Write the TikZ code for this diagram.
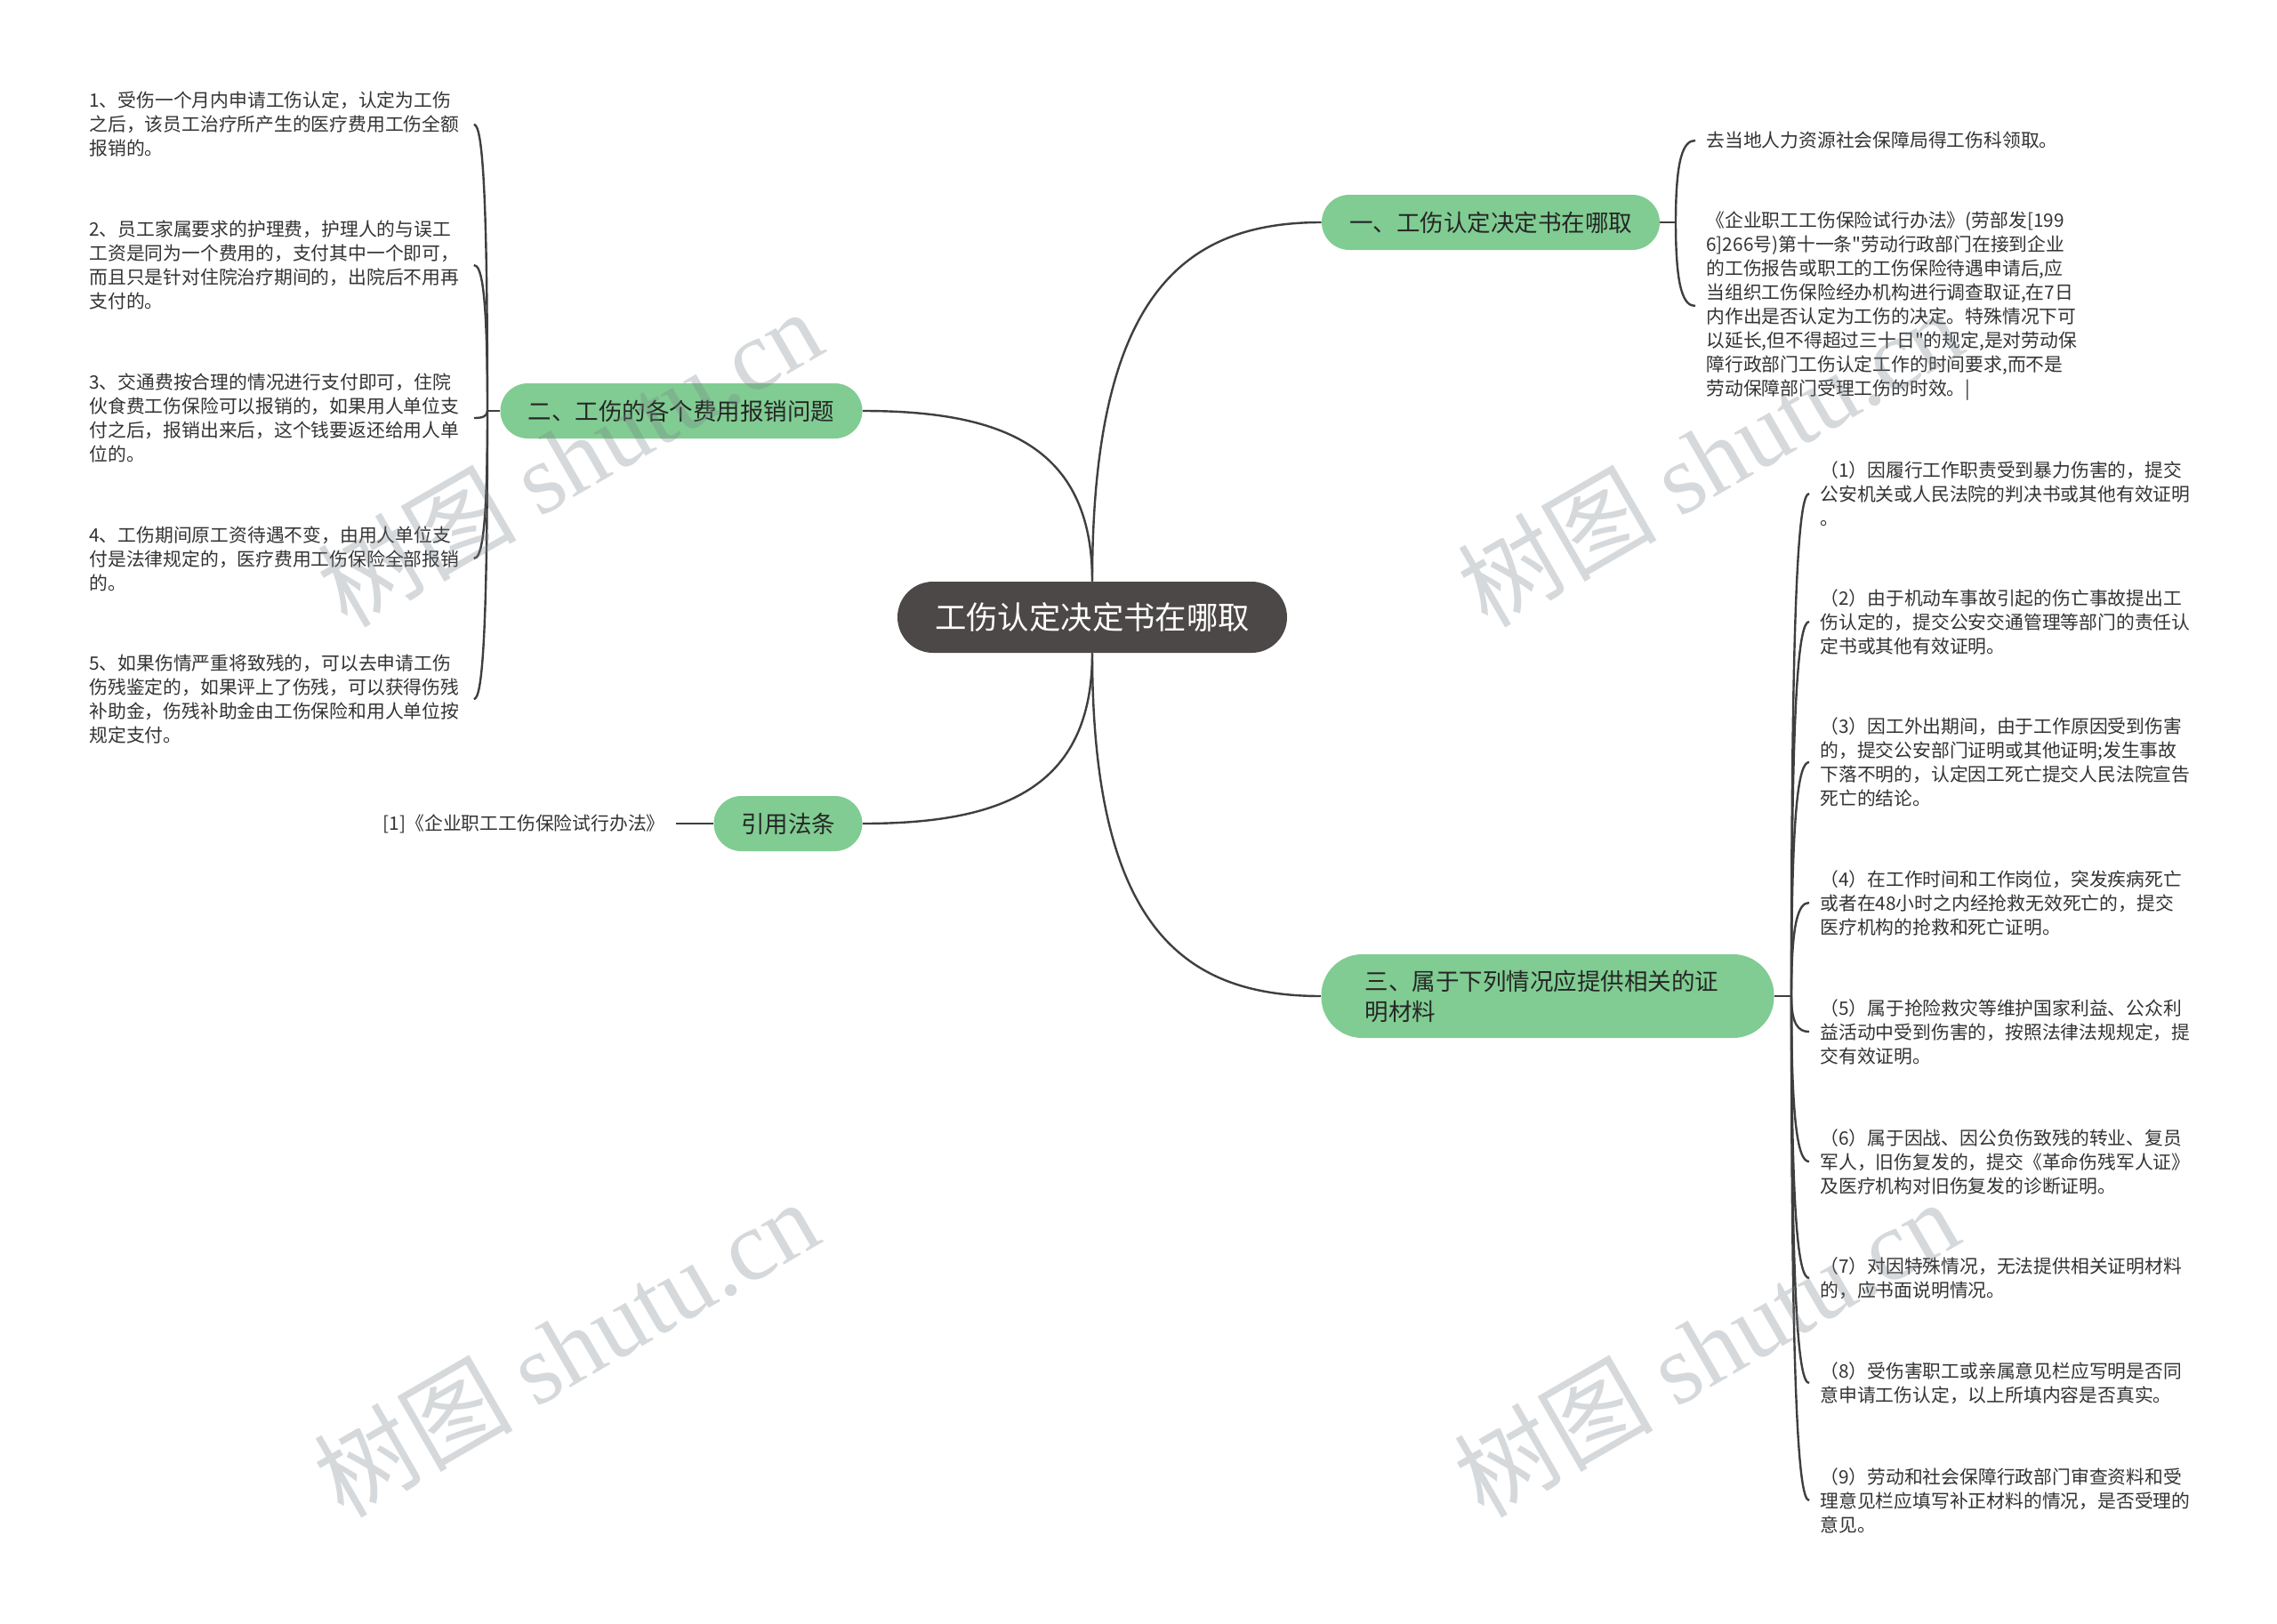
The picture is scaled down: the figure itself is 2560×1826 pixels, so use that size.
\documentclass[tikz,border=0pt]{standalone}
\usepackage{fontspec}
\setmainfont{Noto Sans CJK SC}
\newfontfamily\plainquote{Noto Sans CJK SC}[Ligatures=ResetAll]
\newfontfamily\wmlatin{Liberation Serif}
\usetikzlibrary{calc}

\definecolor{rootgray}{HTML}{4D4848}
\definecolor{twiggreen}{HTML}{80CC92}
\definecolor{linkgray}{HTML}{3F3F3F}
\definecolor{leaftext}{HTML}{333333}
\definecolor{wmgray}{RGB}{120,130,136}

\newcommand{\dq}{{\plainquote\symbol{34}}}

\tikzset{
  root/.style={fill=rootgray, text=white, rounded corners=20pt, minimum width=219pt, minimum height=40pt, inner sep=0pt, font=\fontsize{17.7pt}{21pt}\selectfont},
  twig/.style={fill=twiggreen, text=black!85, rounded corners=15.5pt, minimum height=31pt, inner sep=0pt, font=\fontsize{13.25pt}{17pt}\selectfont},
  note/.style={text=leaftext, inner xsep=6pt, inner ysep=2pt, font=\fontsize{10.4pt}{13.5pt}\selectfont},
  leaf/.style={note, align=left, text width=210pt},
  link/.style={draw=linkgray, line width=1.2pt},
  bough/.style={to path={.. controls ($(\tikztostart |- \tikztotarget)!0.2!(\tikztostart)$) and ($(\tikztostart |- \tikztotarget)!0.4!(\tikztotarget)$) .. (\tikztotarget)}},
  wmark/.style={rotate=30, text=wmgray, text opacity=0.3, font=\fontsize{56pt}{60pt}\selectfont}
}

\begin{document}
\begin{tikzpicture}[x=0.5pt, y=-0.5pt]
    % Canvas
    \fill[white] (0,0) rectangle (2560,1826);
    \useasboundingbox (0,0) rectangle (2560,1826);

    % Root and main topics
    \node[root] (root) at (1228,694) {工伤认定决定书在哪取};
    \node[twig, minimum width=190pt] (where) at (1676,250) {一、工伤认定决定书在哪取};
    \node[twig, minimum width=203.5pt] (costs) at (766,462) {二、工伤的各个费用报销问题};
    \node[twig, minimum width=83.5pt] (cite) at (886,926) {引用法条};
    \node[twig, minimum width=254.5pt, minimum height=47pt, rounded corners=23pt, align=left, text width=205.5pt] (proof) at (1740,1120) {三、属于下列情况应提供相关的证\\明材料};

    % Links from the root
    \draw[link] (root.north) to[bough] (where.west);
    \draw[link] (root.north) to[bough] (costs.east);
    \draw[link] (root.south) to[bough] (cite.east);
    \draw[link] (root.south) to[bough] (proof.west);

    % Topic one
    \node[leaf, anchor=west] (w1) at (1906,158) {去当地人力资源社会保障局得工伤科领取。};
    \node[leaf, anchor=west] (w2) at (1906,344) {《企业职工工伤保险试行办法》(劳部发[199\\6]266号)第十一条\dq 劳动行政部门在接到企业\\的工伤报告或职工的工伤保险待遇申请后,应\\当组织工伤保险经办机构进行调查取证,在7日\\内作出是否认定为工伤的决定。特殊情况下可\\以延长,但不得超过三十日\dq 的规定,是对劳动保\\障行政部门工伤认定工作的时间要求,而不是\\劳动保障部门受理工伤的时效。|};
    \coordinate (wherefork) at (1884,250);
    \draw[link] (where.east) -- (wherefork);
    \foreach \i in {1,2} \draw[link] (wherefork) to[bough] (w\i.west);

    % Topic two
    \node[leaf, anchor=west] (c1) at (88,140) {1、受伤一个月内申请工伤认定，认定为工伤\\之后，该员工治疗所产生的医疗费用工伤全额\\报销的。};
    \node[leaf, anchor=west] (c2) at (88,298) {2、员工家属要求的护理费，护理人的与误工\\工资是同为一个费用的，支付其中一个即可，\\而且只是针对住院治疗期间的，出院后不用再\\支付的。};
    \node[leaf, anchor=west] (c3) at (88,470) {3、交通费按合理的情况进行支付即可，住院\\伙食费工伤保险可以报销的，如果用人单位支\\付之后，报销出来后，这个钱要返还给用人单\\位的。};
    \node[leaf, anchor=west] (c4) at (88,628) {4、工伤期间原工资待遇不变，由用人单位支\\付是法律规定的，医疗费用工伤保险全部报销\\的。};
    \node[leaf, anchor=west] (c5) at (88,786) {5、如果伤情严重将致残的，可以去申请工伤\\伤残鉴定的，如果评上了伤残，可以获得伤残\\补助金，伤残补助金由工伤保险和用人单位按\\规定支付。};
    \coordinate (costsfork) at (548,462);
    \draw[link] (costs.west) -- (costsfork);
    \foreach \i in {1,...,5} \draw[link] (costsfork) to[bough] (c\i.east);

    % Cited law
    \node[note, anchor=east] (law) at (760,926) {[1]《企业职工工伤保险试行办法》};
    \draw[link] (cite.west) -- (law.east);

    % Topic three
    \node[leaf, anchor=west] (p1) at (2034,555) {（1）因履行工作职责受到暴力伤害的，提交\\公安机关或人民法院的判决书或其他有效证明\\。};
    \node[leaf, anchor=west] (p2) at (2034,699) {（2）由于机动车事故引起的伤亡事故提出工\\伤认定的，提交公安交通管理等部门的责任认\\定书或其他有效证明。};
    \node[leaf, anchor=west] (p3) at (2034,857) {（3）因工外出期间，由于工作原因受到伤害\\的，提交公安部门证明或其他证明;发生事故\\下落不明的，认定因工死亡提交人民法院宣告\\死亡的结论。};
    \node[leaf, anchor=west] (p4) at (2034,1015) {（4）在工作时间和工作岗位，突发疾病死亡\\或者在48小时之内经抢救无效死亡的，提交\\医疗机构的抢救和死亡证明。};
    \node[leaf, anchor=west] (p5) at (2034,1160) {（5）属于抢险救灾等维护国家利益、公众利\\益活动中受到伤害的，按照法律法规规定，提\\交有效证明。};
    \node[leaf, anchor=west] (p6) at (2034,1306) {（6）属于因战、因公负伤致残的转业、复员\\军人，旧伤复发的，提交《革命伤残军人证》\\及医疗机构对旧伤复发的诊断证明。};
    \node[leaf, anchor=west] (p7) at (2034,1437) {（7）对因特殊情况，无法提供相关证明材料\\的，应书面说明情况。};
    \node[leaf, anchor=west] (p8) at (2034,1555) {（8）受伤害职工或亲属意见栏应写明是否同\\意申请工伤认定，以上所填内容是否真实。};
    \node[leaf, anchor=west] (p9) at (2034,1687) {（9）劳动和社会保障行政部门审查资料和受\\理意见栏应填写补正材料的情况，是否受理的\\意见。};
    \coordinate (prooffork) at (2014,1120);
    \draw[link] (proof.east) -- (prooffork);
    \foreach \i in {1,...,9} \draw[link] (prooffork) to[bough] (p\i.west);

    % Watermarks
    \foreach \wx/\wy [count=\k] in {640/514, 1922/514, 636/1515, 1918/1515}
        \node[wmark] (wm\k) at (\wx,\wy) {树图 {\wmlatin shutu.cn}};
\end{tikzpicture}
\end{document}
